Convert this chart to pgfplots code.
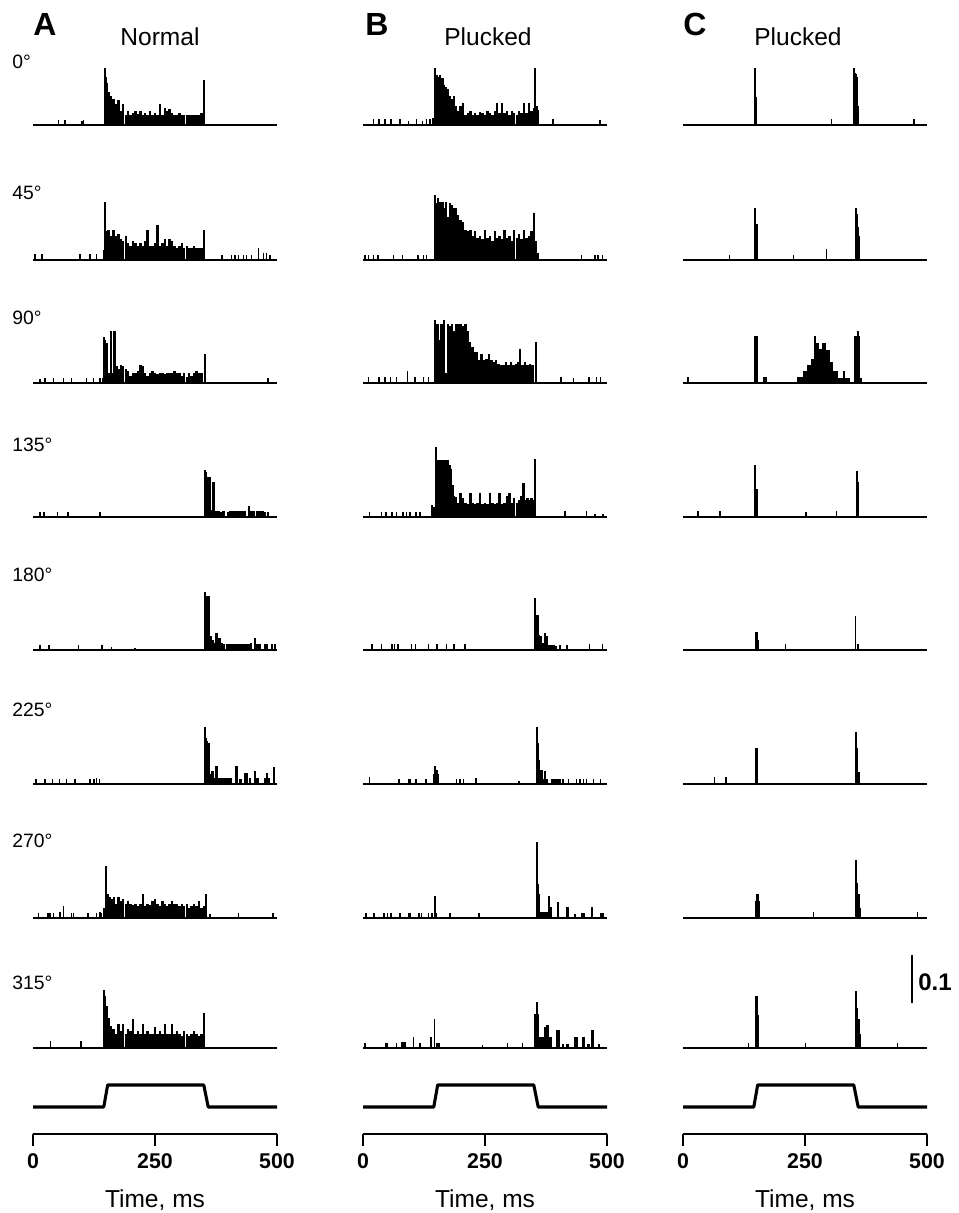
\documentclass[border=0pt]{standalone}
\usepackage{pgfplots}
\pgfplotsset{compat=1.18}
\usepackage{fontspec}
\setmainfont{Liberation Sans}

% 1 px of the reference = 0.75pt; 500 ms = 244 px; 0.1 = 47.5 px
\pgfplotsset{
  psth/.style={hide axis, x=0.366pt, y=356.25pt, xmin=0, xmax=500, ymin=0, ymax=0.17,
    clip=false, anchor=south west},
  stim/.style={x=0.366pt, y=16.5pt, xmin=0, xmax=500, ymin=-1.227, ymax=1.3,
    clip=false, anchor=south west, axis x line=bottom, axis y line=none,
    axis line style={-, line width=1.1pt}, xtick={0,250,500}, xticklabels={,,},
    tick align=outside, major tick length=9pt, tick style={line width=1.1pt, black}},
}

% #1 left x (px), #2 baseline y (px from top), #3 dense bins, #4 isolated spikes
\newcommand{\psth}[4]{%
  \begin{axis}[psth, at={({#1*0.75pt},{(1213-#2)*0.75pt})}]
    \addplot[ycomb, line width=1.8pt] coordinates {#3};
    \addplot[ycomb, line width=1.1pt] coordinates {#4};
    \addplot[line width=1.3pt] coordinates {(0,0) (500,0)};
  \end{axis}}

\newcommand{\stim}[1]{%
  \begin{axis}[stim, at={({#1*0.75pt},{(1213-1134)*0.75pt})}]
    \addplot[line width=2.3pt, line join=round] coordinates {(0,0) (145,0) (153,1) (350,1) (359,0) (500,0)};
  \end{axis}}

\begin{document}
\begin{tikzpicture}
\useasboundingbox (0,0) rectangle (718.5pt,909.75pt);

% ---------------- column A: Normal ----------------
\psth{33}{125}{(147,0.12) (150,0.10) (152,0.088) (155,0.07) (160,0.06) (165,0.055) (170,0.045) (175,0.052) (180,0.03) (185,0.045) (190,0.022) (195,0.03) (200,0.02) (205,0.025) (210,0.03) (215,0.024) (220,0.03) (225,0.02) (230,0.026) (235,0.02) (240,0.03) (245,0.02) (250,0.025) (255,0.02) (260,0.045) (265,0.02) (270,0.035) (275,0.03) (280,0.033) (285,0.025) (290,0.02) (295,0.022) (300,0.025) (305,0.02) (310,0.02) (315,0.022) (320,0.02) (325,0.02) (330,0.022) (335,0.02) (340,0.02) (345,0.025) (350,0.095)}
  {(52,0.011) (66,0.011) (100,0.008) (103,0.011)}
\psth{33}{260}{(145,0.02) (148,0.122) (150,0.06) (155,0.063) (160,0.05) (165,0.063) (170,0.05) (175,0.055) (180,0.045) (185,0.04) (190,0.05) (195,0.035) (200,0.03) (205,0.04) (210,0.035) (215,0.03) (220,0.035) (225,0.03) (230,0.04) (235,0.063) (240,0.03) (245,0.03) (250,0.035) (255,0.074) (260,0.03) (265,0.035) (270,0.045) (275,0.03) (280,0.045) (285,0.04) (290,0.03) (295,0.025) (300,0.03) (305,0.035) (310,0.025) (315,0.03) (320,0.025) (325,0.025) (330,0.03) (335,0.025) (340,0.025) (345,0.025) (350,0.063)}
  {(4,0.013) (18,0.013) (96,0.013) (117,0.013) (130,0.013) (387,0.011) (407,0.011) (414,0.011) (421,0.011) (431,0.011) (438,0.011) (448,0.011) (462,0.025) (472,0.015) (479,0.015) (486,0.011)}
\psth{33}{383}{(143,0.01) (145,0.097) (148,0.09) (152,0.085) (155,0.02) (160,0.11) (163,0.02) (167,0.11) (171,0.035) (175,0.03) (180,0.037) (185,0.035) (190,0.03) (195,0.025) (200,0.015) (205,0.02) (210,0.02) (215,0.025) (220,0.037) (225,0.035) (230,0.02) (235,0.015) (240,0.02) (245,0.025) (250,0.02) (255,0.018) (260,0.022) (265,0.02) (270,0.018) (275,0.02) (280,0.022) (285,0.02) (290,0.025) (295,0.02) (300,0.022) (305,0.015) (310,0.02) (315,0.012) (320,0.02) (325,0.015) (330,0.02) (335,0.025) (340,0.02) (345,0.02) (352,0.062)}
  {(14,0.008) (25,0.011) (42,0.011) (62,0.011) (79,0.011) (110,0.011) (124,0.011) (137,0.011) (482,0.011)}
\psth{33}{517}{(352,0.098) (355,0.095) (358,0.04) (360,0.085) (363,0.084) (366,0.015) (370,0.074) (375,0.013) (380,0.013) (385,0.011) (390,0.013) (400,0.011) (405,0.013) (410,0.012) (415,0.013) (420,0.012) (425,0.013) (430,0.012) (435,0.012) (443,0.023) (448,0.012) (453,0.013) (460,0.012) (465,0.013) (470,0.012) (475,0.011) (482,0.011)}
  {(14,0.011) (23,0.011) (50,0.011) (72,0.011) (137,0.011)}
\psth{33}{650}{(352,0.123) (355,0.09) (357,0.113) (361,0.113) (364,0.03) (368,0.02) (372,0.015) (376,0.035) (380,0.025) (383,0.025) (387,0.015) (392,0.013) (397,0.012) (402,0.013) (407,0.012) (412,0.012) (417,0.013) (422,0.012) (427,0.012) (432,0.013) (437,0.012) (442,0.012) (447,0.015) (455,0.025) (460,0.013) (465,0.012) (475,0.013) (480,0.012) (490,0.013) (496,0.013)}
  {(14,0.011) (33,0.011) (93,0.011) (141,0.011) (161,0.006) (209,0.005)}
\psth{33}{784}{(352,0.12) (355,0.097) (357,0.09) (361,0.086) (364,0.02) (368,0.027) (372,0.013) (376,0.037) (380,0.013) (385,0.013) (390,0.012) (395,0.013) (400,0.012) (405,0.013) (417,0.037) (425,0.011) (434,0.023) (439,0.023) (445,0.012) (455,0.027) (460,0.013) (475,0.012) (479,0.023) (483,0.013) (494,0.036)}
  {(6,0.011) (25,0.011) (40,0.011) (54,0.011) (69,0.011) (86,0.011) (117,0.011) (125,0.011) (130,0.013) (136,0.011)}
\psth{33}{918}{(146,0.02) (150,0.11) (154,0.05) (158,0.045) (162,0.04) (166,0.045) (170,0.03) (175,0.045) (180,0.035) (185,0.04) (190,0.03) (195,0.035) (200,0.03) (205,0.028) (210,0.03) (215,0.025) (220,0.03) (225,0.05) (230,0.025) (235,0.03) (240,0.028) (245,0.035) (250,0.04) (255,0.03) (260,0.025) (265,0.035) (270,0.03) (275,0.025) (280,0.03) (285,0.035) (290,0.03) (295,0.03) (300,0.025) (305,0.03) (310,0.025) (315,0.03) (320,0.02) (325,0.025) (330,0.03) (335,0.025) (340,0.035) (345,0.02) (350,0.025) (355,0.05)}
  {(11,0.011) (31,0.011) (35,0.011) (42,0.011) (55,0.013) (63,0.025) (79,0.011) (83,0.011) (113,0.011) (130,0.011) (137,0.013) (140,0.011) (363,0.008) (421,0.011) (492,0.011)}
\psth{33}{1048}{(145,0.123) (148,0.11) (151,0.088) (155,0.063) (160,0.046) (165,0.04) (170,0.03) (175,0.05) (180,0.035) (185,0.05) (190,0.03) (195,0.04) (200,0.035) (205,0.06) (210,0.03) (215,0.035) (220,0.03) (225,0.05) (230,0.03) (235,0.035) (240,0.03) (245,0.03) (250,0.045) (255,0.03) (260,0.035) (265,0.03) (270,0.05) (275,0.03) (280,0.03) (285,0.05) (290,0.03) (295,0.035) (300,0.03) (305,0.025) (310,0.035) (315,0.03) (320,0.025) (325,0.03) (330,0.035) (335,0.03) (340,0.025) (345,0.03) (350,0.074)}
  {(36,0.014) (98,0.014)}
\stim{33}

% ---------------- column B: Plucked ----------------
\psth{363}{125}{(143,0.015) (147,0.12) (150,0.07) (152,0.105) (155,0.1) (158,0.105) (160,0.09) (163,0.098) (166,0.085) (170,0.081) (174,0.075) (178,0.06) (182,0.055) (186,0.06) (190,0.04) (195,0.03) (200,0.039) (205,0.046) (210,0.02) (215,0.025) (220,0.03) (225,0.022) (230,0.025) (235,0.02) (240,0.028) (245,0.025) (250,0.02) (255,0.03) (260,0.025) (265,0.02) (270,0.03) (275,0.046) (280,0.025) (285,0.046) (290,0.025) (295,0.03) (300,0.02) (305,0.03) (310,0.025) (315,0.02) (320,0.03) (325,0.025) (330,0.046) (335,0.025) (340,0.046) (345,0.03) (350,0.035) (353,0.12) (356,0.04) (359,0.032)}
  {(21,0.012) (33,0.012) (45,0.012) (57,0.012) (76,0.012) (93,0.008) (110,0.012) (122,0.008) (130,0.012) (137,0.012) (389,0.012) (486,0.01)}
\psth{363}{260}{(148,0.137) (151,0.12) (154,0.13) (157,0.123) (160,0.1) (163,0.123) (166,0.11) (170,0.123) (174,0.09) (178,0.12) (182,0.115) (186,0.11) (190,0.109) (195,0.095) (200,0.084) (205,0.08) (210,0.063) (215,0.06) (220,0.063) (225,0.05) (230,0.06) (235,0.046) (240,0.05) (245,0.045) (250,0.063) (255,0.046) (260,0.05) (265,0.04) (270,0.06) (275,0.046) (280,0.05) (285,0.045) (290,0.063) (295,0.046) (300,0.05) (305,0.04) (310,0.063) (315,0.046) (320,0.055) (325,0.045) (330,0.063) (335,0.046) (340,0.05) (345,0.06) (350,0.098) (354,0.04) (358,0.015)}
  {(4,0.011) (11,0.011) (21,0.011) (31,0.011) (62,0.011) (81,0.011) (113,0.011) (124,0.011) (130,0.011) (448,0.011) (475,0.011) (482,0.011) (491,0.011)}
\psth{363}{383}{(148,0.133) (151,0.125) (154,0.125) (157,0.09) (160,0.125) (163,0.125) (166,0.133) (170,0.02) (174,0.125) (178,0.12) (182,0.125) (186,0.11) (190,0.125) (195,0.125) (200,0.125) (205,0.12) (210,0.125) (215,0.11) (219,0.086) (224,0.075) (229,0.065) (233,0.065) (238,0.048) (243,0.06) (248,0.048) (253,0.05) (258,0.062) (263,0.048) (268,0.045) (273,0.048) (278,0.04) (283,0.037) (288,0.037) (293,0.045) (298,0.037) (303,0.045) (308,0.037) (313,0.04) (318,0.045) (322,0.072) (327,0.037) (332,0.045) (337,0.037) (342,0.04) (347,0.037) (354,0.086)}
  {(11,0.013) (33,0.013) (45,0.013) (56,0.013) (69,0.013) (91,0.025) (107,0.013) (124,0.013) (134,0.013) (406,0.013) (431,0.011) (463,0.013) (479,0.013) (487,0.013)}
\psth{363}{517}{(146,0.02) (150,0.147) (153,0.12) (156,0.084) (159,0.12) (162,0.1) (165,0.12) (168,0.084) (171,0.12) (174,0.12) (177,0.11) (180,0.1) (183,0.067) (187,0.045) (191,0.042) (195,0.03) (200,0.05) (205,0.04) (210,0.03) (215,0.028) (220,0.05) (225,0.03) (230,0.028) (235,0.03) (240,0.05) (245,0.028) (250,0.03) (255,0.028) (260,0.05) (265,0.03) (270,0.028) (275,0.03) (280,0.05) (285,0.028) (290,0.03) (295,0.045) (300,0.05) (305,0.03) (310,0.04) (315,0.03) (320,0.035) (325,0.045) (329,0.072) (333,0.035) (337,0.04) (341,0.035) (345,0.04) (349,0.035) (353,0.123)}
  {(13,0.011) (38,0.011) (47,0.011) (59,0.011) (69,0.011) (82,0.011) (89,0.011) (96,0.011) (109,0.011) (117,0.011) (141,0.025) (414,0.013) (458,0.013) (475,0.006) (492,0.006)}
\psth{363}{650}{(352,0.109) (355,0.074) (358,0.074) (361,0.032) (364,0.03) (368,0.015) (373,0.035) (377,0.03) (381,0.01) (386,0.011) (390,0.011) (395,0.008)}
  {(18,0.013) (38,0.013) (59,0.013) (65,0.013) (72,0.013) (99,0.013) (108,0.013) (134,0.013) (152,0.013) (171,0.013) (186,0.013) (209,0.013) (404,0.011) (418,0.011) (464,0.013) (491,0.013)}
\psth{363}{784}{(145,0.02) (148,0.037) (151,0.03) (154,0.02) (356,0.12) (359,0.086) (361,0.05) (364,0.02) (366,0.03) (370,0.01) (373,0.027) (377,0.011) (387,0.011) (390,0.011) (395,0.011) (400,0.011) (404,0.011) (410,0.011)}
  {(13,0.015) (74,0.011) (93,0.011) (96,0.011) (109,0.011) (129,0.011) (192,0.011) (199,0.011) (206,0.011) (232,0.013) (320,0.006) (421,0.011) (438,0.011) (445,0.011) (452,0.011) (458,0.011) (472,0.011) (487,0.011)}
\psth{363}{918}{(148,0.047) (356,0.16) (358,0.072) (361,0.05) (364,0.012) (368,0.012) (372,0.012) (376,0.012) (381,0.047) (385,0.023) (399,0.034) (419,0.023) (434,0.008) (450,0.011) (453,0.011) (469,0.023) (488,0.011) (491,0.011)}
  {(6,0.011) (23,0.011) (43,0.011) (50,0.011) (57,0.011) (76,0.011) (93,0.011) (96,0.011) (115,0.011) (120,0.011) (134,0.011) (141,0.011) (151,0.011) (178,0.011) (238,0.011)}
\psth{363}{1048}{(352,0.072) (356,0.097) (359,0.071) (363,0.023) (366,0.023) (370,0.023) (373,0.044) (378,0.048) (382,0.023) (385,0.023) (397,0.037) (401,0.037) (410,0.009) (419,0.009) (435,0.023) (439,0.023) (452,0.023) (462,0.008) (470,0.037) (484,0.008)}
  {(4,0.011) (47,0.011) (50,0.011) (69,0.011) (80,0.013) (83,0.013) (86,0.013) (103,0.023) (117,0.011) (139,0.023) (147,0.06) (152,0.011) (156,0.011) (245,0.006) (296,0.011) (327,0.011)}
\stim{363}

% ---------------- column C: Plucked ----------------
\psth{683}{125}{(147,0.12) (150,0.058) (351,0.12) (353,0.11) (355,0.107) (357,0.1) (359,0.04)}
  {(304,0.012) (473,0.012)}
\psth{683}{260}{(148,0.11) (151,0.075) (354,0.11) (356,0.097) (358,0.07) (360,0.05)}
  {(95,0.011) (226,0.011) (294,0.023)}
\psth{683}{383}{(148,0.098) (151,0.098) (236,0.013) (240,0.013) (244,0.013) (248,0.025) (252,0.025) (256,0.037) (260,0.037) (264,0.051) (268,0.051) (270,0.098) (273,0.084) (277,0.084) (281,0.072) (284,0.072) (288,0.084) (291,0.084) (295,0.069) (298,0.069) (302,0.044) (305,0.044) (309,0.025) (312,0.025) (316,0.025) (320,0.011) (325,0.011) (330,0.025) (335,0.011) (339,0.011) (352,0.098) (355,0.098) (358,0.11) (361,0.098) (364,0.011)}
  {(10,0.013) (166,0.013) (170,0.013)}
\psth{683}{517}{(148,0.11) (151,0.058) (356,0.097) (359,0.073)}
  {(31,0.013) (76,0.013) (252,0.011) (315,0.013)}
\psth{683}{650}{(151,0.037) (153,0.02)}
  {(210,0.012) (354,0.072) (359,0.012)}
\psth{683}{784}{(151,0.075) (354,0.11) (357,0.075) (361,0.026)}
  {(64,0.015) (88,0.015)}
\psth{683}{918}{(151,0.035) (153,0.05) (155,0.035) (354,0.123) (357,0.074) (360,0.05) (363,0.02)}
  {(267,0.013) (481,0.012)}
\psth{683}{1048}{(151,0.109) (153,0.07) (354,0.12) (357,0.084) (360,0.06) (363,0.03)}
  {(134,0.011) (251,0.011) (440,0.011)}
\stim{683}

% ---------------- text ----------------
\begin{scope}[x=0.75pt, y=0.75pt]
  \foreach \xx/\lab in {33/A, 365/B, 683/C}
    \node[anchor=base west, inner sep=0pt, font=\bfseries\fontsize{24}{26}\selectfont] at (\xx,1177) {\lab};
  \node[anchor=base, inner sep=0pt, font=\fontsize{18.4}{20}\selectfont] at (160,1167) {Normal};
  \node[anchor=base, inner sep=0pt, font=\fontsize{18.4}{20}\selectfont] at (488,1167) {Plucked};
  \node[anchor=base, inner sep=0pt, font=\fontsize{18.4}{20}\selectfont] at (798,1167) {Plucked};
  \foreach \yy/\lab in {1144/0, 1013/45, 888/90, 761/135, 631/180, 496/225, 365/270, 223/315}
    \node[anchor=base west, inner sep=0pt, font=\fontsize{14.5}{16}\selectfont] at (12,\yy) {\lab°};
  \foreach \xx in {33, 363, 683} {
    \node[anchor=base, inner sep=0pt, font=\bfseries\fontsize{16}{18}\selectfont] at (\xx,44) {0};
    \node[anchor=base, inner sep=0pt, font=\bfseries\fontsize{16}{18}\selectfont] at (\xx+122,44) {250};
    \node[anchor=base, inner sep=0pt, font=\bfseries\fontsize{16}{18}\selectfont] at (\xx+244,44) {500};
    \node[anchor=base, inner sep=0pt, font=\fontsize{18.4}{20}\selectfont] at (\xx+122,5) {Time, ms};
  }
  % scale bar
  \draw[line width=2.2pt] (912,258) -- (912,210);
  \node[anchor=west, inner sep=0pt, font=\bfseries\fontsize{18}{20}\selectfont] at (918,231) {0.1};
\end{scope}
\end{tikzpicture}
\end{document}
